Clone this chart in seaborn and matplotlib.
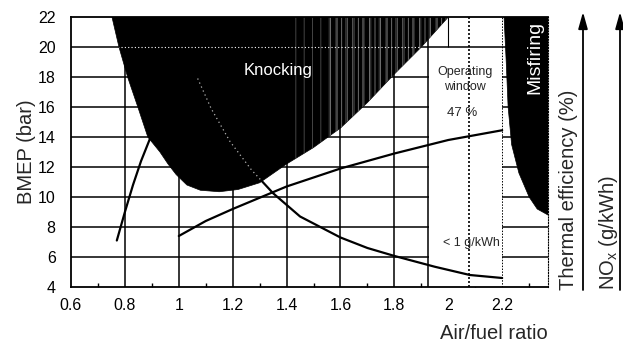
import numpy as np
import pandas as pd
import matplotlib
matplotlib.use("Agg")
import matplotlib.pyplot as plt
import seaborn as sns
from matplotlib.patches import Polygon, Rectangle

# ---- data: air/fuel ratio (lambda) vs BMEP (bar) ----
knock_lambda = [0.752, 0.778, 0.81, 0.848, 0.885, 0.93, 0.96, 0.99, 1.03, 1.08,
                1.15, 1.22, 1.30, 1.40, 1.50, 1.60, 1.70, 1.80, 1.90, 2.00]
knock_bmep = [22, 20, 18, 16, 14, 13, 12.2, 11.5, 10.8, 10.45,
              10.35, 10.5, 10.95, 12.2, 13.3, 14.6, 16.3, 18.2, 20.0, 22]

misfire_lambda = [2.207, 2.215, 2.222, 2.235, 2.262, 2.30, 2.33, 2.37]
misfire_bmep = [22, 19, 16, 13.5, 11.6, 10.0, 9.2, 8.8]

eff_rich_lambda = [0.77, 0.80, 0.83, 0.86, 0.90]
eff_rich_bmep = [7.1, 9.0, 10.8, 12.4, 14.2]

eff_lean_lambda = [1.0, 1.1, 1.2, 1.4, 1.6, 1.8, 2.0, 2.2]
eff_lean_bmep = [7.4, 8.4, 9.2, 10.7, 11.9, 12.9, 13.8, 14.45]

nox_lambda = [1.07, 1.08, 1.12, 1.19, 1.27, 1.35, 1.45, 1.6, 1.7, 1.8, 1.95, 2.08, 2.2]
nox_bmep = [17.9, 17.5, 15.9, 13.7, 11.8, 10.25, 8.7, 7.3, 6.6, 6.07, 5.35, 4.8, 4.6]

operating_lambda = 2.075
window_left, window_right, window_top = 1.925, 2.2, 19.8

x_ticks = [0.6, 0.8, 1.0, 1.2, 1.4, 1.6, 1.8, 2.0, 2.2]
x_tick_labels = ["0.6", "0.8", "1", "1.2", "1.4", "1.6", "1.8", "2", "2.2"]
x_minor = [0.7, 0.9, 1.1, 1.3, 1.5, 1.7, 1.9, 2.1, 2.3]
y_ticks = [4, 6, 8, 10, 12, 14, 16, 18, 20, 22]
grid_x = [0.8, 1.0, 1.2, 1.4, 1.6, 1.8]
grid_y = [6, 8, 10, 12, 14, 16, 18, 20]

XMIN, XMAX, YMIN, YMAX = 0.6, 2.37, 4, 22

# ---- style ----
sns.set_style("white")
plt.rcParams["font.family"] = ["Liberation Sans", "DejaVu Sans"]
plt.rcParams["mathtext.fontset"] = "custom"
plt.rcParams["mathtext.rm"] = "Liberation Sans"
plt.rcParams["hatch.linewidth"] = 0.6

fig = plt.figure(figsize=(6.23, 3.45), dpi=100)
ax = fig.add_axes([71 / 623, 58 / 345, 477 / 623, 270 / 345])
ax.set_xlim(XMIN, XMAX)
ax.set_ylim(YMIN, YMAX)

# grid
for gx in grid_x + [window_left]:
    ax.vlines(gx, YMIN, YMAX, color="black", lw=1.1, zorder=1)
ax.vlines(2.0, 20, YMAX, color="black", lw=0.8, zorder=1)
ax.vlines(2.2, YMIN, YMAX, color="black", lw=0.7, ls=(0, (1.5, 1.5)), zorder=1)
for gy in grid_y:
    ax.hlines(gy, XMIN, XMAX, color="black", lw=1.1, zorder=1)

# operating window (clear area)
ax.add_patch(Rectangle((window_left + 0.004, YMIN), window_right - window_left - 0.006,
                       window_top - YMIN, facecolor="white", edgecolor="none", zorder=2))

# knocking region
knock_patch = Polygon(np.column_stack([knock_lambda, knock_bmep]), closed=True,
                      facecolor="black", edgecolor="black", lw=0.5, zorder=3)
ax.add_patch(knock_patch)

# lighter striped texture on the right part of the knocking region
kx = np.array(knock_lambda)
ky = np.array(knock_bmep)
imin = int(np.argmin(ky))
for cut, shade, pattern in [(1.42, "#505050", "||"), (1.56, "#808080", "|||")]:
    y_cut = np.interp(cut, kx[imin:], ky[imin:])
    sel = kx > cut
    pts = [(cut, YMAX), (cut, y_cut)] + [(a, b) for a, b in zip(kx[sel], ky[sel])]
    ax.add_patch(Polygon(pts, closed=True, facecolor="none", edgecolor=shade,
                         hatch=pattern, lw=0, zorder=3.1))

# faint grid line visible through the knocking region
wl = ax.hlines(20, XMIN, 2.0, color="white", lw=0.8, ls=(0, (1, 2)), zorder=3.2)
wl.set_clip_path(knock_patch)

# misfiring region
mis_pts = list(zip(misfire_lambda, misfire_bmep)) + [(XMAX + 0.01, misfire_bmep[-1]),
                                                     (XMAX + 0.01, YMAX)]
ax.add_patch(Polygon(mis_pts, closed=True, facecolor="black", edgecolor="black",
                     lw=0.5, zorder=3))

# operating point
ax.vlines(operating_lambda, YMIN, YMAX, color="black", lw=1.2, ls=(0, (1.2, 1.2)), zorder=4)

# curves
rich = pd.DataFrame({"lam": eff_rich_lambda, "bmep": eff_rich_bmep})
lean = pd.DataFrame({"lam": eff_lean_lambda, "bmep": eff_lean_bmep})
nox = pd.DataFrame({"lam": nox_lambda, "bmep": nox_bmep})
for df in (rich, lean, nox):
    sns.lineplot(data=df, x="lam", y="bmep", ax=ax, color="black", lw=1.6,
                 sort=False, estimator=None, zorder=5)
sns.lineplot(data=nox, x="lam", y="bmep", ax=ax, color="white", lw=0.9,
             sort=False, estimator=None, zorder=5.5, alpha=0.7)
ax.lines[-1].set_linestyle((0, (1, 2.5)))
ax.lines[-1].set_clip_path(knock_patch)

# annotations
ax.text(1.37, 18.4, "Knocking", color="white", fontsize=12, ha="center", va="center", zorder=6)
ax.text(2.322, 19.3, "Misfiring", color="white", fontsize=14, rotation=90,
        ha="center", va="center", zorder=6)
ax.text(2.063, 18.3, "Operating", fontsize=9, ha="center", va="center", zorder=6)
ax.text(2.063, 17.3, "window", fontsize=9, ha="center", va="center", zorder=6)
ax.text(2.05, 15.6, "47 %", fontsize=9.5, ha="center", va="center", zorder=6)
ax.text(2.085, 6.95, "< 1 g/kWh", fontsize=9, ha="center", va="center", zorder=6)

# axes, ticks, labels
ax.set_xticks(x_ticks)
ax.set_xticklabels(x_tick_labels)
ax.set_xticks(x_minor, minor=True)
ax.set_yticks(y_ticks)
ax.tick_params(axis="both", which="major", length=0, labelsize=11.5, colors="black")
ax.tick_params(axis="x", which="major", pad=8)
ax.tick_params(axis="y", which="major", pad=11)
ax.tick_params(axis="x", which="minor", bottom=True, direction="in", length=3,
               width=1, color="black")
ax.set_xlabel("Air/fuel ratio", fontsize=14.5, loc="right", labelpad=8)
ax.set_ylabel("BMEP (bar)", fontsize=14.5, labelpad=1)
for side in ("left", "bottom", "top"):
    ax.spines[side].set_color("black")
    ax.spines[side].set_linewidth(1.3)
ax.spines["right"].set_color("black")
ax.spines["right"].set_linewidth(0.8)
ax.spines["right"].set_linestyle((0, (1, 1.5)))
for s in ax.spines.values():
    s.set_zorder(7)

# right-hand quantity arrows
for xp, label, xt in [(583, "Thermal efficiency (%)", 568),
                      (620, r"NO$_\mathregular{x}$ (g/kWh)", 608)]:
    ax.annotate("", xy=(xp / 623, 1 - 12 / 345), xytext=(xp / 623, 1 - 290 / 345),
                xycoords="figure fraction", textcoords="figure fraction",
                arrowprops=dict(arrowstyle="-|>,head_length=1.0,head_width=0.28",
                                mutation_scale=10, color="black", lw=1.3,
                                shrinkA=0, shrinkB=0),
                annotation_clip=False)
    fig.text(xt / 623, 1 - 290 / 345, label, rotation=90, fontsize=14.5,
             ha="center", va="bottom")

fig.savefig("out.png", dpi=100)
